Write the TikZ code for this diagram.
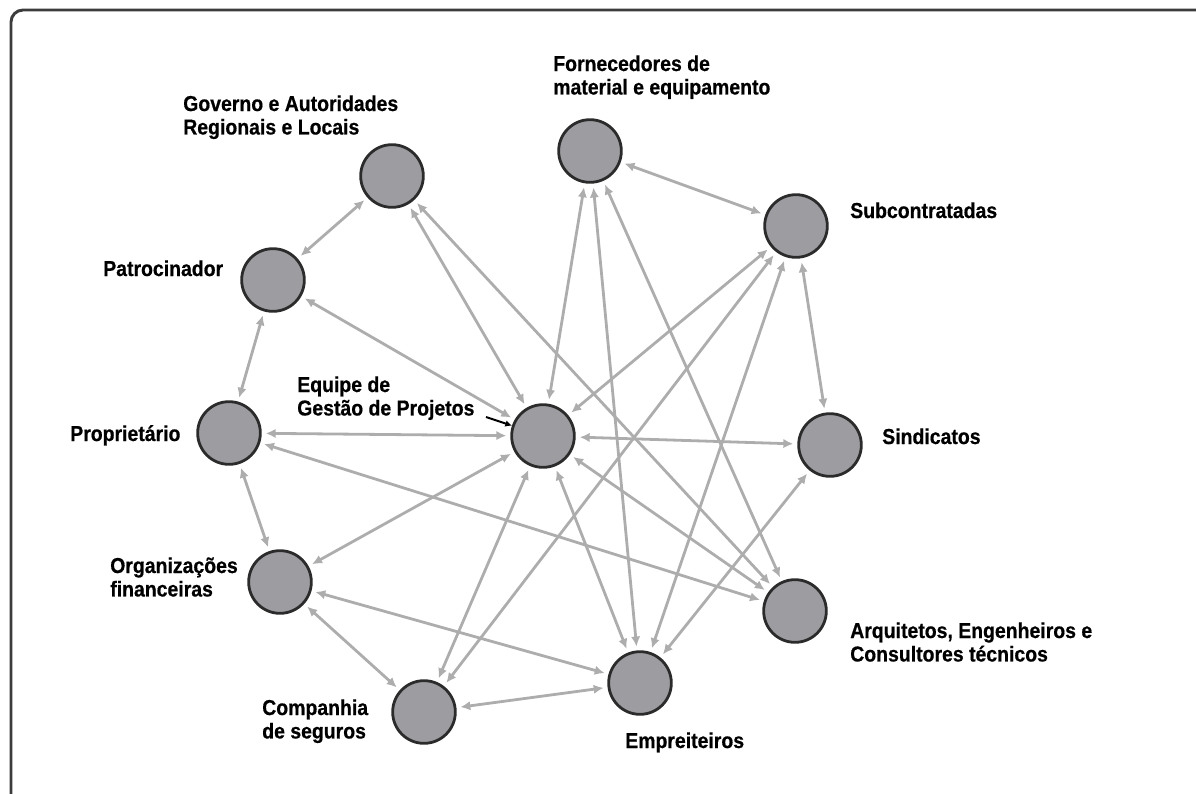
\documentclass[tikz,border=0pt]{standalone}
\usepackage{fontspec}
\setmainfont{Liberation Sans}
\newfontfamily\labelfont[FakeStretch=0.9, BoldFeatures={FakeBold=0.6}]{Liberation Sans}
\usetikzlibrary{arrows.meta}
\definecolor{nodefill}{HTML}{9D9DA1}
\definecolor{nodeedge}{HTML}{2B2B2B}
\definecolor{linkgray}{HTML}{ADADAD}
\definecolor{framegray}{HTML}{3C3C3C}
\newcommand\twoline[2]{\begin{tabular}[t]{@{}l@{}}#1\\#2\end{tabular}}
\begin{document}
\begin{tikzpicture}[x=0.75pt,y=-0.75pt,
  actor/.style={circle, draw=nodeedge, fill=nodefill, line width=2.1pt,
    minimum size=47pt, inner sep=0pt, outer sep=4pt},
  link/.style={draw=linkgray, line width=2.1pt,
    {Latex[length=7.5pt,width=7pt]}-{Latex[length=7.5pt,width=7pt]}},
  pointer/.style={draw=black, line width=1.5pt, -{Latex[length=5pt,width=5pt]},
    shorten >=-3pt},
  lbl/.style={anchor=base west, inner sep=0pt,
    font=\labelfont\fontsize{16.2}{17.6}\selectfont\bfseries},
  ]
\useasboundingbox (0,0) rectangle (1196,793);
% outer frame, open at the right and bottom
\begin{scope}
  \clip (0,0) rectangle (1196,793);
  \draw[framegray, line width=2.2pt, rounded corners=9pt] (11,10) rectangle (1215,830);
\end{scope}

% stakeholders
\node[actor] (gov)  at (392,176) {};
\node[actor] (forn) at (590,151) {};
\node[actor] (sub)  at (796,226) {};
\node[actor] (pat)  at (273,280) {};
\node[actor] (prop) at (229,433) {};
\node[actor] (eq)   at (543,436) {};
\node[actor] (sind) at (830,445) {};
\node[actor] (org)  at (280,582) {};
\node[actor] (arq)  at (795,611) {};
\node[actor] (comp) at (424,712) {};
\node[actor] (emp)  at (640,683) {};

% labels
\node[lbl] (lgov)  at (183,111) {\twoline{Governo e Autoridades}{Regionais e Locais}};
\node[lbl] (lforn) at (553,71)  {\twoline{Fornecedores de}{material e equipamento}};
\node[lbl] (lsub)  at (850,218) {Subcontratadas};
\node[lbl] (lpat)  at (103,276) {Patrocinador};
\node[lbl] (lprop) at (70,441)  {Proprietário};
\node[lbl] (leq)   at (297,392) {\twoline{Equipe de}{Gestão de Projetos}};
\node[lbl] (lsind) at (882,444) {Sindicatos};
\node[lbl] (lorg)  at (110,573) {\twoline{Organizações}{financeiras}};
\node[lbl] (larq)  at (850,638) {\twoline{Arquitetos, Engenheiros e}{Consultores técnicos}};
\node[lbl] (lcomp) at (262,715) {\twoline{Companhia}{de seguros}};
\node[lbl] (lemp)  at (625,748) {Empreiteiros};

% relationships
\draw[link] (gov) -- (pat);
\draw[link] (gov) -- (eq);
\draw[link] (gov) -- (arq);
\draw[link] (pat) -- (prop);
\draw[link] (pat) -- (eq);
\draw[link] (prop) -- (eq);
\draw[link] (prop) -- (org);
\draw[link] (prop) -- (arq);
\draw[link] (org) -- (eq);
\draw[link] (org) -- (comp);
\draw[link] (org) -- (emp);
\draw[link] (comp) -- (emp);
\draw[link] (comp) -- (eq);
\draw[link] (comp) -- (sub);
\draw[link] (eq) -- (forn);
\draw[link] (eq) -- (sub);
\draw[link] (eq) -- (sind);
\draw[link] (eq) -- (arq);
\draw[link] (eq) -- (emp);
\draw[link] (forn) -- (sub);
\draw[link] (forn) -- (emp);
\draw[link] (forn) -- (arq);
\draw[link] (sub) -- (sind);
\draw[link] (sub) -- (emp);
\draw[link] (sind) -- (emp);

% pointer from the central label
\coordinate (ptr) at (486,417);
\draw[pointer] (ptr) -- (eq);
\end{tikzpicture}
\end{document}
